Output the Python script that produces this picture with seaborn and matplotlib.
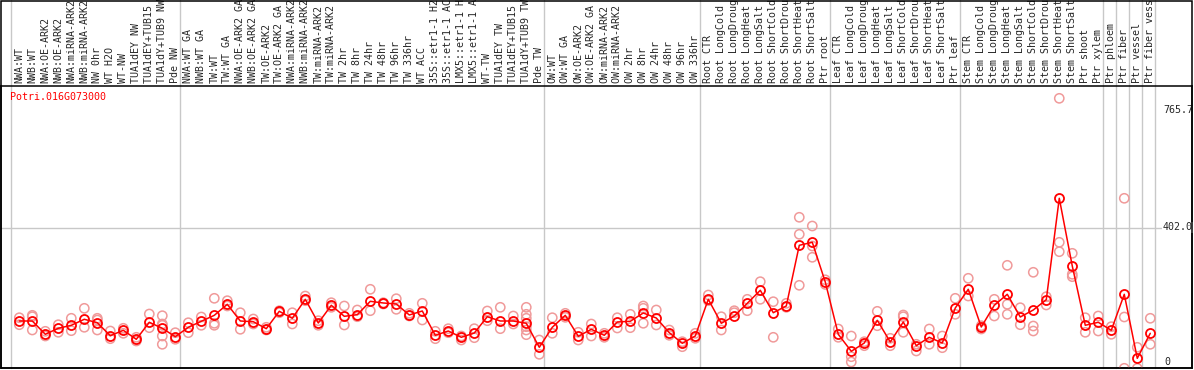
import numpy as np
import pandas as pd
import matplotlib
matplotlib.use("Agg")
import matplotlib.pyplot as plt
import matplotlib.transforms as mtransforms
from matplotlib.patches import Rectangle
import seaborn as sns

gene_id = "Potri.016G073000"

labels = [
    # NW
    "NWA:WT", "NWB:WT", "NWA:OE-ARK2", "NWB:OE-ARK2", "NWA:miRNA-ARK2",
    "NWB:miRNA-ARK2", "NW 0hr", "WT H2O", "WT-NW", "TUA1dEY NW",
    "TUA1dEY+TUB15 NW", "TUA1dY+TUB9 NW", "Pde NW",
    # TW
    "NWA:WT GA", "NWB:WT GA", "TW:WT", "TW:WT GA", "NWA:OE-ARK2 GA",
    "NWB:OE-ARK2 GA", "TW:OE-ARK2", "TW:OE-ARK2 GA", "NWA:miRNA-ARK2 GA",
    "NWB:miRNA-ARK2 GA", "TW:miRNA-ARK2", "TW:miRNA-ARK2 GA", "TW 2hr",
    "TW 8hr", "TW 24hr", "TW 48hr", "TW 96hr", "TW 336hr", "WT ACC",
    "35S::etr1-1 H2O", "35S::etr1-1 ACC", "LMX5::etr1-1 H2O",
    "LMX5::etr1-1 ACC", "WT-TW", "TUA1dEY TW", "TUA1dEY+TUB15 TW",
    "TUA1dY+TUB9 TW", "Pde TW",
    # OW
    "OW:WT", "OW:WT GA", "OW:OE-ARK2", "OW:OE-ARK2 GA", "OW:miRNA-ARK2",
    "OW:miRNA-ARK2 GA", "OW 2hr", "OW 8hr", "OW 24hr", "OW 48hr", "OW 96hr",
    "OW 336hr",
    # root
    "Root CTR", "Root LongCold", "Root LongDrought", "Root LongHeat",
    "Root LongSalt", "Root ShortCold", "Root ShortDrought", "Root ShortHeat",
    "Root ShortSalt", "Ptr root",
    # leaf
    "Leaf CTR", "Leaf LongCold", "Leaf LongDrought", "Leaf LongHeat",
    "Leaf LongSalt", "Leaf ShortCold", "Leaf ShortDrought", "Leaf ShortHeat",
    "Leaf ShortSalt", "Ptr leaf",
    # stem
    "Stem CTR", "Stem LongCold", "Stem LongDrought", "Stem LongHeat",
    "Stem LongSalt", "Stem ShortCold", "Stem ShortDrought", "Stem ShortHeat",
    "Stem ShortSalt", "Ptr shoot", "Ptr xylem",
    # single tissues
    "Ptr phloem", "Ptr fiber", "Ptr vessel", "Ptr fiber vessel",
]
group_sizes = [13, 28, 12, 10, 10, 11, 1, 1, 1, 1]

means = [
    142.7, 142.7, 105.5, 122.3, 130.7, 147.5, 137.9, 101.6, 116.7, 91.5,
    139.1, 122.3, 98.8,
    125.1, 141.9, 158.6, 189.4, 142.7, 140.7, 121.2, 169.8, 150.3, 203.4,
    137.1, 186.6, 155.8, 160.3, 197.8, 193.1, 190.3, 159.5, 170.7, 102.7,
    114.7, 97.1, 109.1, 154.7, 142.7, 142.7, 136.3, 69.1,
    125.1, 158.6, 99.9, 119.5, 102.7, 139.9, 141.9, 165.1, 151.1, 110.0,
    80.3, 100.7,
    203.4, 136.3, 156.7, 192.2, 228.6, 165.9, 184.7, 354.5, 362.9, 251.8,
    105.5, 57.9, 81.1, 144.7, 83.9, 139.9, 73.6, 97.1, 81.1, 179.1,
    231.4, 125.9, 186.6, 217.4, 153.9, 173.5, 202.3, 486.0, 296.6, 130.7,
    139.1,
    116.7, 217.4, 38.3, 108.3,
]

replicates = [
    [151.9, 132.3], [158.6, 154.7, 117.5], [113.9, 100.7], [132.3, 111.1],
    [150.3, 115.6], [178.2, 125.1], [150.3, 145.5, 117.5], [114.7, 93.2],
    [122.3, 108.3], [97.1, 86.7], [162.3, 124.0],
    [157.5, 134.3, 130.7, 100.7, 77.5], [110.0, 91.5],
    [137.9, 110.0], [153.9, 130.7], [206.2, 136.3, 130.7], [199.5, 184.7],
    [165.9, 119.5], [148.3, 134.3], [125.1, 117.5], [171.5, 165.9],
    [165.9, 134.3], [212.6, 199.5], [143.5, 130.7], [193.9, 181.0],
    [184.7, 131.5], [173.5, 154.7], [231.4, 171.5], [193.9, 190.3],
    [205.1, 175.4], [164.2, 156.7], [192.2, 145.5], [113.9, 93.2],
    [121.2, 110.0], [100.7, 89.5], [121.2, 96.0], [170.7, 143.5],
    [181.0, 121.2], [156.7, 134.3],
    [181.0, 161.4, 150.3, 126.8, 117.5, 104.4], [89.5, 49.5],
    [151.9, 108.3], [164.2, 153.0], [111.1, 89.5], [134.3, 100.7],
    [108.3, 97.1], [151.9, 123.1], [161.4, 124.0], [184.7, 178.2, 136.3],
    [173.5, 131.5], [117.5, 102.7], [84.8, 70.8], [108.3, 94.3],
    [215.4, 199.5], [154.7, 117.5], [165.9, 171.5], [203.4, 171.5],
    [252.7, 203.4], [196.7, 97.1], [192.2, 181.0], [432.9, 385.3, 242.6],
    [408.5, 352.5, 320.9], [245.0, 258.0],
    [120.3, 97.1], [100.7, 42.8, 28.0], [84.8, 73.6], [169.8, 129.5],
    [94.3, 73.6], [159.5, 154.7, 111.1], [77.5, 58.8], [120.3, 77.5],
    [100.7, 68.0], [206.2, 161.4],
    [262.2, 212.6], [129.5, 120.3], [203.4, 156.7], [298.5, 189.4, 161.4],
    [179.9, 132.3], [279.0, 128.7, 114.7], [210.7, 187.5],
    [765.7, 362.9, 336.6], [332.1, 273.4, 266.7], [151.9, 111.1],
    [156.7, 114.7],
    [126.8, 105.5], [486.0, 153.9, 10.4], [69.1, 10.4], [150.3, 77.5],
]

max_value = 765.7
mid_value = 402.0

sns.set_style("white")
plt.rcParams["font.family"] = ["DejaVu Sans Mono"]

W, H = 1194, 370
fig = plt.figure(figsize=(W / 100, H / 100), dpi=100)
ax = fig.add_axes([1 / W, 2 / H, 1191 / W, 282 / H])

grid_col = "#c8c8c8"
rep_col = "#f09a9a"

pos = np.arange(len(labels))
rep_df = pd.DataFrame(
    [(i, v) for i, vals in enumerate(replicates) for v in vals],
    columns=["pos", "value"],
)
mean_df = pd.DataFrame({"pos": pos, "value": means})

# group separators and the mid gridline
bounds = np.cumsum([0] + group_sizes) - 1 + 0.385
for b in bounds:
    ax.axvline(b, ymin=0, ymax=368 / 282, color=grid_col, lw=1,
               clip_on=False, zorder=0)
ax.axhline(mid_value, color=grid_col, lw=1, zorder=0)

sns.scatterplot(data=rep_df, x="pos", y="value", ax=ax, marker="o", s=44,
                color=rep_col, legend=False, zorder=3)
coll = ax.collections[-1]
coll.set_facecolor("none")
coll.set_edgecolor(rep_col)
coll.set_linewidth(1.1)

sns.lineplot(data=mean_df, x="pos", y="value", ax=ax, color="red", lw=1.1,
             errorbar=None, marker="o", markersize=6.5,
             markerfacecolor="none", markeredgecolor="red",
             markeredgewidth=1.3, zorder=4)

ax.set_xlim(-1.408, 90.21)
ax.set_ylim(11.2, 800.2)

ax.set_xticks(pos)
ax.set_xticklabels(labels, rotation=90, fontsize=7.2)
ax.tick_params(axis="x", length=0, pad=2, top=True, bottom=False,
               labeltop=True, labelbottom=False)
ax.set_yticks([])
ax.set_xlabel("")
ax.set_ylabel("")
for sp in ax.spines.values():
    sp.set_visible(True)
    sp.set_color("black")
    sp.set_linewidth(1.1)

ax.annotate(gene_id, xy=(0, 1), xycoords="axes fraction", xytext=(9, -6),
            textcoords="offset pixels", ha="left", va="top", color="red",
            fontsize=7.2)

trans = mtransforms.blended_transform_factory(ax.transAxes, ax.transData)
xlab = (1163 - 1) / 1191
ax.annotate(f"{max_value:.1f}", xy=(xlab, max_value), xycoords=trans,
            xytext=(0, -12), textcoords="offset pixels", ha="left",
            va="center", fontsize=7.2)
ax.annotate(f"{mid_value:.1f}", xy=(xlab, mid_value), xycoords=trans,
            xytext=(0, 1), textcoords="offset pixels", ha="left",
            va="center", fontsize=7.2,
            bbox=dict(facecolor="white", edgecolor="none", pad=0.5))
ax.annotate("0", xy=(xlab, 0), xycoords=trans, xytext=(1, 10),
            textcoords="offset pixels", ha="left", va="center", fontsize=7.2)

fig.add_artist(Rectangle((0.75 / W, 1.75 / H), 1191.5 / W, 367.5 / H,
                         transform=fig.transFigure, fill=False,
                         ec="black", lw=1.1))

fig.savefig("out.png", dpi=100)
